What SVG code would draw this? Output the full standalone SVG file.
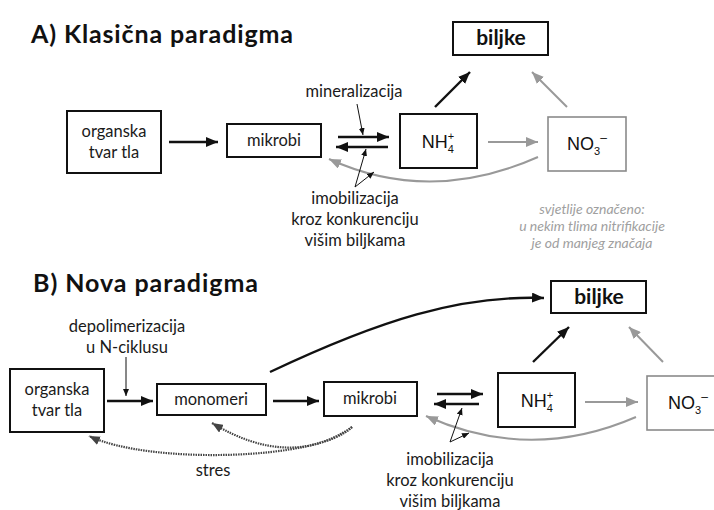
<svg xmlns="http://www.w3.org/2000/svg" width="714" height="510" viewBox="0 0 714 510">
<style>
.bg{fill:#ffffff}
.box{fill:#ffffff;stroke:#111;stroke-width:2}
.gbox{fill:#ffffff;stroke:#8a8a8a;stroke-width:1.6}
.lbl{font-family:Lato,"Open Sans",sans-serif;font-size:16.5px;fill:#1a1a1a;text-anchor:middle}
.ttl{font-family:Lato,"Open Sans",sans-serif;font-size:25px;font-weight:bold;fill:#111}
.bj{font-family:Lato,"Open Sans",sans-serif;font-size:21px;font-weight:bold;fill:#111;text-anchor:middle}
.chem{font-family:"Liberation Sans",Arial,sans-serif;font-size:18px;fill:#111;text-anchor:middle}
.note{font-family:Lato,"Open Sans",sans-serif;font-size:14px;font-style:italic;fill:#a0a0a0;text-anchor:middle}
.blk{fill:none;stroke:#111;stroke-width:2.4}
.gry{fill:none;stroke:#999;stroke-width:2}
.ptr{fill:none;stroke:#111;stroke-width:1}
.dot{fill:none;stroke:#444;stroke-width:2.2;stroke-dasharray:1.5 1}
</style>
<defs>
<marker id="aB" markerUnits="userSpaceOnUse" markerWidth="12" markerHeight="10" refX="12" refY="5" orient="auto"><path d="M0,0 L12,5 L0,10 z" fill="#111"/></marker>
<marker id="aG" markerUnits="userSpaceOnUse" markerWidth="12" markerHeight="10" refX="12" refY="5" orient="auto"><path d="M0,0 L12,5 L0,10 z" fill="#999"/></marker>
<marker id="aS" markerUnits="userSpaceOnUse" markerWidth="7" markerHeight="6" refX="7" refY="3" orient="auto"><path d="M0,0 L7,3 L0,6 z" fill="#111"/></marker>
<marker id="aD" markerUnits="userSpaceOnUse" markerWidth="11" markerHeight="9" refX="11" refY="4.5" orient="auto"><path d="M0,0 L11,4.5 L0,9 z" fill="#444"/></marker>
</defs>
<rect class="bg" x="0" y="0" width="714" height="510"/>

<!-- Section A -->
<text class="ttl" x="31" y="43" textLength="262">A) Klasična paradigma</text>

<g id="connectors">
  <!-- A -->
  <line class="blk" x1="169" y1="142" x2="218" y2="142" marker-end="url(#aB)"/>
  <line class="blk" x1="338" y1="137" x2="389" y2="137" marker-end="url(#aB)"/>
  <line class="blk" x1="388" y1="147" x2="336" y2="147" marker-end="url(#aB)"/>
  <line class="blk" x1="435" y1="107" x2="470" y2="72" marker-end="url(#aB)"/>
  <line class="gry" x1="567" y1="107" x2="532" y2="72" marker-end="url(#aG)"/>
  <line class="gry" x1="488" y1="142" x2="538" y2="142" marker-end="url(#aG)"/>
  <path class="gry" d="M538 157 Q430 205 329 159" marker-end="url(#aG)"/>
  <line class="ptr" x1="357" y1="104" x2="363" y2="135" marker-end="url(#aS)"/>
  <line class="ptr" x1="355" y1="187" x2="366" y2="149" marker-end="url(#aS)"/>
  <line class="ptr" x1="355" y1="187" x2="374" y2="172" marker-end="url(#aS)"/>
  <!-- B -->
  <line class="ptr" x1="126" y1="357" x2="126" y2="396" marker-end="url(#aS)"/>
  <line class="blk" x1="107" y1="401" x2="153" y2="401" marker-end="url(#aB)"/>
  <line class="blk" x1="273" y1="401" x2="319" y2="401" marker-end="url(#aB)"/>
  <path class="blk" d="M270 372 C380 320 460 295 544 298" marker-end="url(#aB)"/>
  <line class="blk" x1="437" y1="394" x2="483" y2="394" marker-end="url(#aB)"/>
  <line class="blk" x1="479" y1="404" x2="434" y2="404" marker-end="url(#aB)"/>
  <line class="blk" x1="533" y1="362" x2="569" y2="327" marker-end="url(#aB)"/>
  <line class="gry" x1="663" y1="362" x2="629" y2="327" marker-end="url(#aG)"/>
  <line class="gry" x1="585" y1="402" x2="638" y2="402" marker-end="url(#aG)"/>
  <path class="gry" d="M636 417 Q530 463 426 416" marker-end="url(#aG)"/>
  <line class="ptr" x1="450" y1="442" x2="462" y2="408" marker-end="url(#aS)"/>
  <line class="ptr" x1="450" y1="442" x2="469" y2="433" marker-end="url(#aS)"/>
  <path class="dot" d="M352 427 Q290 470 212 423" marker-end="url(#aD)"/>
  <path class="dot" d="M352 427 C320 460 150 465 89 436" marker-end="url(#aD)"/>
</g>

<g id="A-organska">
  <rect class="box" x="67" y="111" width="94" height="62"/>
  <text class="lbl" x="114" y="137">organska</text>
  <text class="lbl" x="114" y="158">tvar tla</text>
</g>
<g id="A-mikrobi">
  <rect class="box" x="227" y="124" width="94" height="33"/>
  <text class="lbl" x="274" y="146">mikrobi</text>
</g>
<g id="A-nh4">
  <rect class="box" x="400" y="114" width="77" height="54"/>
  <text class="chem" x="438" y="148">NH<tspan font-size="11" dy="5">4</tspan><tspan font-size="11" dx="-6" dy="-13">+</tspan></text>
</g>
<g id="A-no3">
  <rect class="gbox" x="548" y="117" width="78" height="54"/>
  <text class="chem" x="587" y="150">NO<tspan font-size="11" dy="5">3</tspan><tspan font-size="12" dy="-13">–</tspan></text>
</g>
<g id="A-biljke">
  <rect class="box" x="453" y="22" width="95" height="33"/>
  <text class="bj" x="501" y="45">biljke</text>
</g>
<g id="A-labels">
  <text class="lbl" x="354" y="97">mineralizacija</text>
  <text class="lbl" x="355" y="204">imobilizacija</text>
  <text class="lbl" x="355" y="225">kroz konkurenciju</text>
  <text class="lbl" x="355" y="246">višim biljkama</text>
  <text class="note" x="592" y="214">svjetlije označeno:</text>
  <text class="note" x="592" y="231">u nekim tlima nitrifikacije</text>
  <text class="note" x="592" y="248">je od manjeg značaja</text>
</g>

<!-- Section B -->
<text class="ttl" x="33" y="292" textLength="225">B) Nova paradigma</text>

<g id="B-organska">
  <rect class="box" x="10" y="369" width="94" height="63"/>
  <text class="lbl" x="57" y="395">organska</text>
  <text class="lbl" x="57" y="416">tvar tla</text>
</g>
<g id="B-monomeri">
  <rect class="box" x="157" y="384" width="109" height="31"/>
  <text class="lbl" x="211" y="405">monomeri</text>
</g>
<g id="B-mikrobi">
  <rect class="box" x="324" y="382" width="93" height="34"/>
  <text class="lbl" x="370" y="404">mikrobi</text>
</g>
<g id="B-nh4">
  <rect class="box" x="498" y="373" width="77" height="54"/>
  <text class="chem" x="537" y="407">NH<tspan font-size="11" dy="5">4</tspan><tspan font-size="11" dx="-6" dy="-13">+</tspan></text>
</g>
<g id="B-no3">
  <rect class="gbox" x="647" y="376" width="80" height="54"/>
  <text class="chem" x="688" y="409">NO<tspan font-size="11" dy="5">3</tspan><tspan font-size="12" dy="-13">–</tspan></text>
</g>
<g id="B-biljke">
  <rect class="box" x="551" y="281" width="95" height="32"/>
  <text class="bj" x="599" y="304">biljke</text>
</g>
<g id="B-labels">
  <text class="lbl" x="127" y="332">depolimerizacija</text>
  <text class="lbl" x="127" y="353">u N-ciklusu</text>
  <text class="lbl" x="213" y="476">stres</text>
  <text class="lbl" x="450" y="465">imobilizacija</text>
  <text class="lbl" x="450" y="486">kroz konkurenciju</text>
  <text class="lbl" x="450" y="507">višim biljkama</text>
</g>
</svg>
